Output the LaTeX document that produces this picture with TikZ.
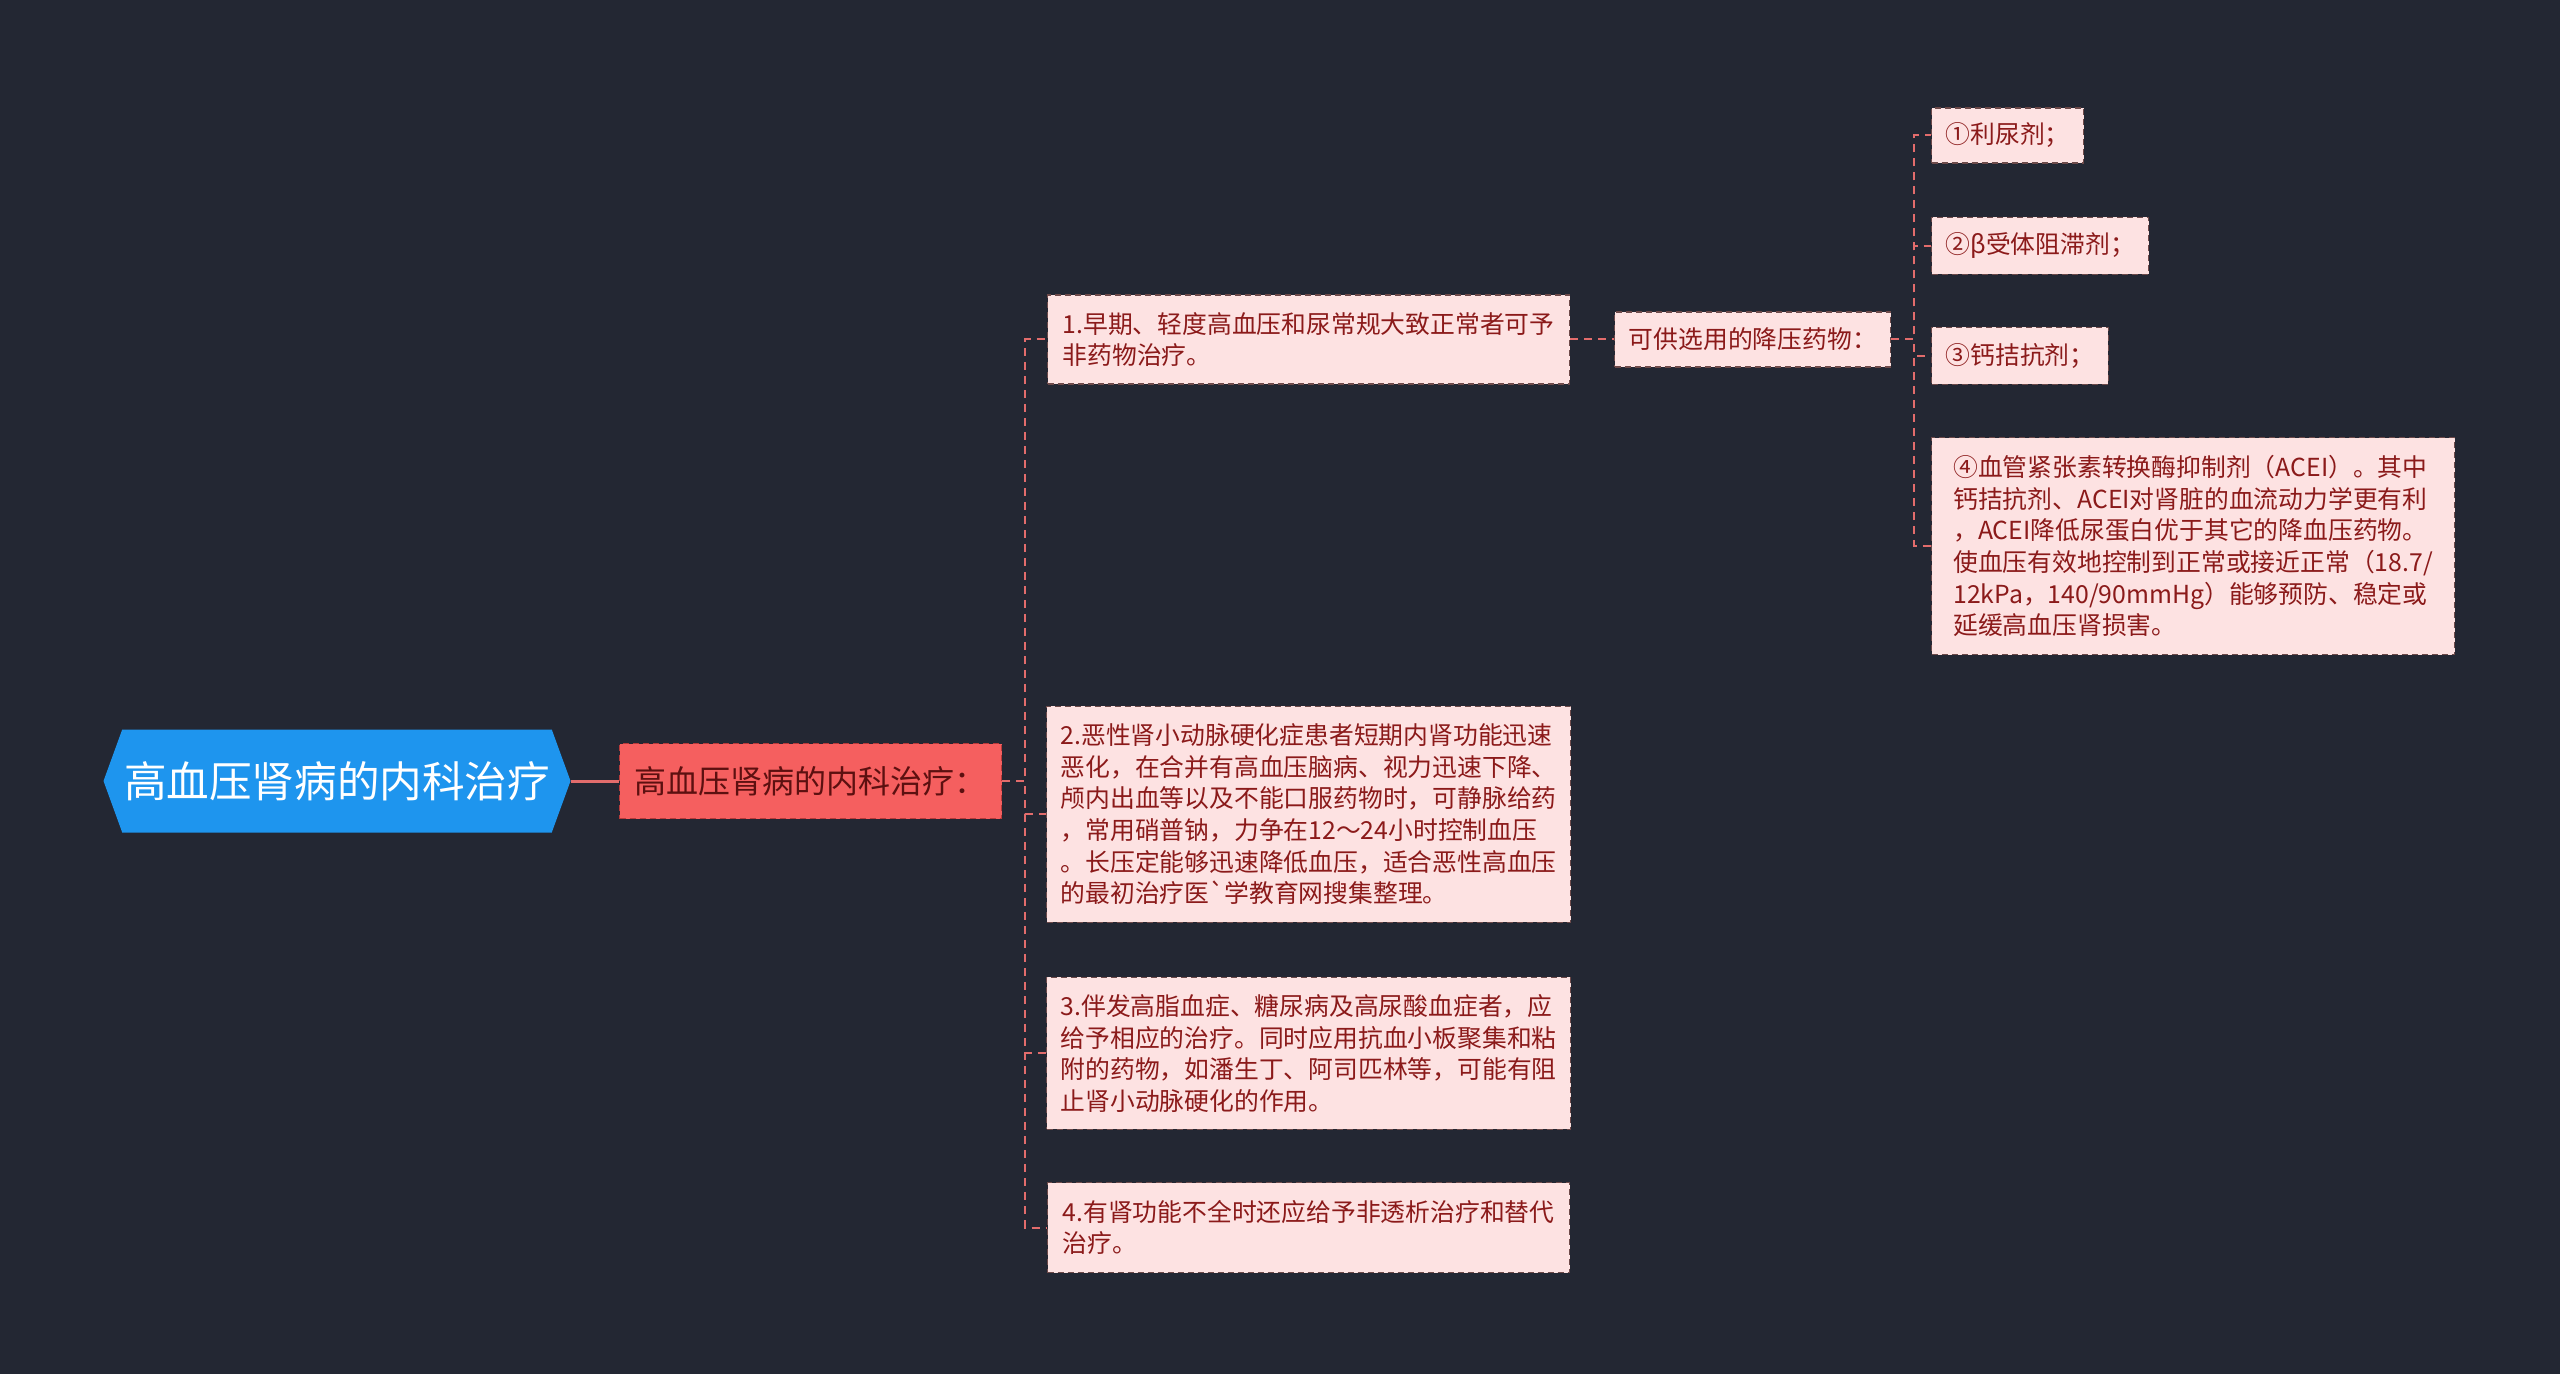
\documentclass[tikz,border=0pt]{standalone}
\usepackage{fontspec}
\setmainfont{Noto Sans CJK SC}[Ligatures=TeXOff]
\usetikzlibrary{positioning,shapes.symbols}

\definecolor{bgc}{HTML}{232733}
\definecolor{rootc}{HTML}{1E95EE}
\definecolor{topicc}{HTML}{F55F5F}
\definecolor{topicline}{HTML}{B83A3A}
\definecolor{topictext}{HTML}{5C1010}
\definecolor{leafc}{HTML}{FDE2E2}
\definecolor{leafline}{HTML}{6E4A4A}
\definecolor{leaftext}{HTML}{8B1A1A}
\definecolor{linkc}{HTML}{E26C6C}

\begin{document}
\begin{tikzpicture}[x=0.5pt, y=-0.5pt,
    rootbox/.style={signal, signal to=west and east, signal pointer angle=140, fill=rootc, text=white, inner sep=0pt, font=\fontsize{21.3pt}{25pt}\selectfont, minimum width=233.5pt, minimum height=51.5pt},
    topicbox/.style={rectangle, draw=topicline, dash pattern=on 3pt off 2pt, line width=0.6pt, fill=topicc, text=topictext, inner sep=0pt, font=\fontsize{16pt}{19pt}\selectfont, minimum width=191pt, minimum height=37.5pt},
    leafbox/.style 2 args={rectangle, draw=leafline, dash pattern=on 3pt off 2pt, line width=0.6pt, fill=leafc, text=leaftext, align=left, inner xsep=7pt, inner ysep=0pt, font=\fontsize{12.4pt}{15.8pt}\selectfont, minimum width=#1, minimum height=#2},
    link/.style={draw=linkc, line width=1pt, dash pattern=on 4pt off 3pt}
  ]
  \fill[bgc] (0,0) rectangle (2560,1374);

  \node[rootbox] (root) at (337,781) {高血压肾病的内科治疗};
  \node[topicbox, right=24pt of root] (topic) {高血压肾病的内科治疗：};

  \node[leafbox={261pt}{44.5pt}, anchor=west] (t1) at (1047,339.5) {1.早期、轻度高血压和尿常规大致正常者可予\\非药物治疗。};
  \node[leafbox={261pt}{108pt}, below=160.5pt of t1] (t2) {2.恶性肾小动脉硬化症患者短期内肾功能迅速\\恶化，在合并有高血压脑病、视力迅速下降、\\颅内出血等以及不能口服药物时，可静脉给药\\，常用硝普钠，力争在12～24小时控制血压\\。长压定能够迅速降低血压，适合恶性高血压\\的最初治疗医`学教育网搜集整理。};
  \node[leafbox={261pt}{76pt}, below=27pt of t2] (t3) {3.伴发高脂血症、糖尿病及高尿酸血症者，应\\给予相应的治疗。同时应用抗血小板聚集和粘\\附的药物，如潘生丁、阿司匹林等，可能有阻\\止肾小动脉硬化的作用。};
  \node[leafbox={261pt}{45pt}, below=26pt of t3] (t4) {4.有肾功能不全时还应给予非透析治疗和替代\\治疗。};

  \node[leafbox={137pt}{27.5pt}, right=22pt of t1] (drug) {可供选用的降压药物：};
  \node[leafbox={75.5pt}{27.5pt}, anchor=west] (d1) at (1931,135.5) {①利尿剂；};
  \node[leafbox={107pt}{28.5pt}, below=26.5pt of d1.south west, anchor=north west] (d2) {②β受体阻滞剂；};
  \node[leafbox={87.5pt}{28.5pt}, below=26pt of d2.south west, anchor=north west] (d3) {③钙拮抗剂；};
  \node[leafbox={261.5pt}{108.5pt}, below=26pt of d3.south west, anchor=north west] (d4) {④血管紧张素转换酶抑制剂（ACEI）。其中\\钙拮抗剂、ACEI对肾脏的血流动力学更有利\\，ACEI降低尿蛋白优于其它的降血压药物。\\使血压有效地控制到正常或接近正常（18.7/\\12kPa，140/90mmHg）能够预防、稳定或\\延缓高血压肾损害。};

  % connectors
  \draw[linkc, line width=1.5pt] (root.east) -- (topic.west);
  \foreach \n in {t1,t2,t3,t4}
    \draw[link] (topic.east) -- ++(11.5pt,0) |- (\n.west);
  \draw[link] (t1.east) -- (drug.west);
  \foreach \n in {d1,d2,d3,d4}
    \draw[link] (drug.east) -- ++(11.5pt,0) |- (\n.west);
\end{tikzpicture}
\end{document}
